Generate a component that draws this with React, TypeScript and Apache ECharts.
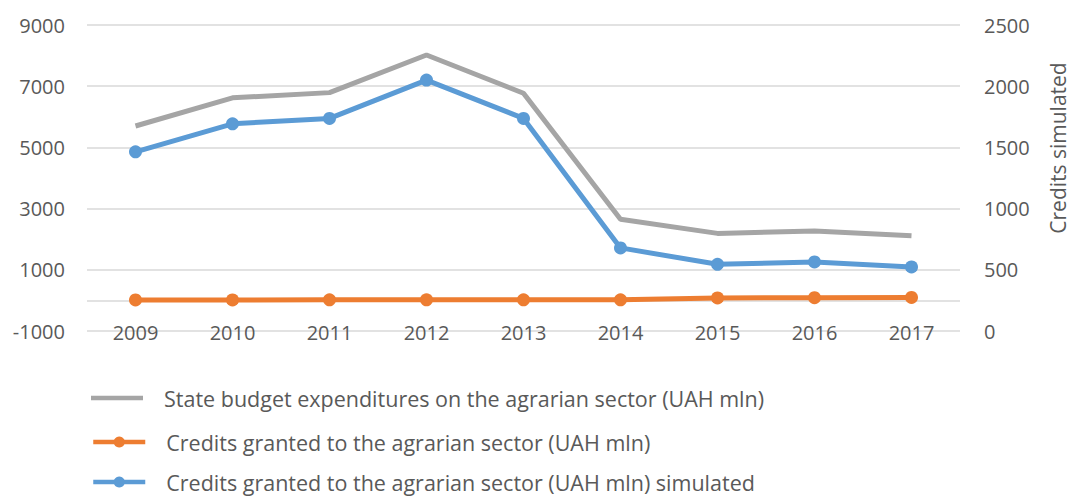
import React, { useEffect, useRef } from "react";
import * as echarts from "echarts";

const years = ["2009", "2010", "2011", "2012", "2013", "2014", "2015", "2016", "2017"];
const budgetExpenditures = [5700, 6620, 6790, 8020, 6770, 2650, 2190, 2270, 2110];
const creditsGranted = [15, 15, 18, 20, 20, 20, 80, 90, 95];
const creditsSimulated = [1464, 1693, 1737, 2050, 1737, 679, 545, 564, 523];

const nameBudget = "State budget expenditures on the agrarian sector (UAH mln)";
const nameCredits = "Credits granted to the agrarian sector (UAH mln)";
const nameSimulated = "Credits granted to the agrarian sector (UAH mln) simulated";

const FONT = "Open Sans";
const FS = 20;
const FS_LEGEND = 21.5;
const TXT = "#595959";
const GRID = "#d9d9d9";

const legendRow = (item: any, top: number) => ({
  orient: "vertical",
  left: 91,
  top,
  padding: 0,
  itemWidth: 52,
  itemHeight: 14,
  lineStyle: { width: 4.5 },
  textStyle: {
    fontFamily: FONT,
    fontSize: FS_LEGEND,
    color: TXT,
    padding: [0, 0, 0, 16],
    lineHeight: 22,
  },
  data: [item],
});

export default function App() {
  const ref = useRef<HTMLDivElement>(null);
  useEffect(() => {
    if (!ref.current) return;
    const chart = echarts.init(ref.current, null, { renderer: "svg" });
    chart.setOption({
      animation: false,
      textStyle: { fontFamily: FONT, color: TXT },
      grid: { left: 87, right: 111, top: 25, bottom: 165, containLabel: false },
      legend: [
        legendRow({ name: nameBudget, icon: "path://M0,0L52,0L52,4.5L0,4.5Z" }, 387),
        legendRow({ name: nameCredits }, 431),
        legendRow({ name: nameSimulated }, 471),
      ],
      graphic: [
        {
          type: "text",
          x: 1058,
          y: 148,
          rotation: Math.PI / 2,
          style: {
            text: "Credits simulated",
            fontFamily: FONT,
            fontSize: 21,
            fill: TXT,
            align: "center",
            verticalAlign: "middle",
          },
        },
      ],
      xAxis: {
        type: "category",
        data: years,
        boundaryGap: true,
        axisLine: { show: false },
        axisTick: { show: false },
        axisLabel: {
          fontFamily: FONT,
          fontSize: FS,
          color: TXT,
          margin: 1,
          verticalAlign: "middle",
        },
      },
      yAxis: [
        {
          type: "value",
          min: -1000,
          max: 9000,
          interval: 2000,
          axisLine: { show: false },
          axisTick: { show: false },
          axisLabel: {
            fontFamily: FONT,
            fontSize: FS,
            color: TXT,
            margin: 22,
            formatter: (v: number) => String(v),
          },
          splitLine: { lineStyle: { color: GRID, width: 1.5 } },
        },
        {
          type: "value",
          min: 0,
          max: 2500,
          interval: 500,
          axisLine: { show: false },
          axisTick: { show: false },
          axisLabel: {
            fontFamily: FONT,
            fontSize: FS,
            color: TXT,
            margin: 24,
            formatter: (v: number) => String(v),
          },
          splitLine: { show: false },
        },
      ],
      series: [
        {
          name: nameBudget,
          type: "line",
          yAxisIndex: 0,
          data: budgetExpenditures,
          symbol: "none",
          lineStyle: { color: "#a5a5a5", width: 5 },
          itemStyle: { color: "#a5a5a5" },
          z: 2,
        },
        {
          name: nameCredits,
          type: "line",
          yAxisIndex: 0,
          data: creditsGranted,
          symbol: "circle",
          symbolSize: 13,
          lineStyle: { color: "#ed7d31", width: 5 },
          itemStyle: { color: "#ed7d31" },
          z: 3,
          markLine: {
            silent: true,
            symbol: "none",
            label: { show: false },
            lineStyle: { color: GRID, width: 1.5, type: "solid" },
            data: [{ yAxis: 0 }],
            z: 1,
          },
        },
        {
          name: nameSimulated,
          type: "line",
          yAxisIndex: 1,
          data: creditsSimulated,
          symbol: "circle",
          symbolSize: 13,
          lineStyle: { color: "#5b9bd5", width: 5 },
          itemStyle: { color: "#5b9bd5" },
          z: 4,
        },
      ],
    });
    return () => chart.dispose();
  }, []);
  return (
    <div
      ref={ref}
      style={{ position: "absolute", left: 0, top: 0, width: 1071, height: 496 }}
    />
  );
}
